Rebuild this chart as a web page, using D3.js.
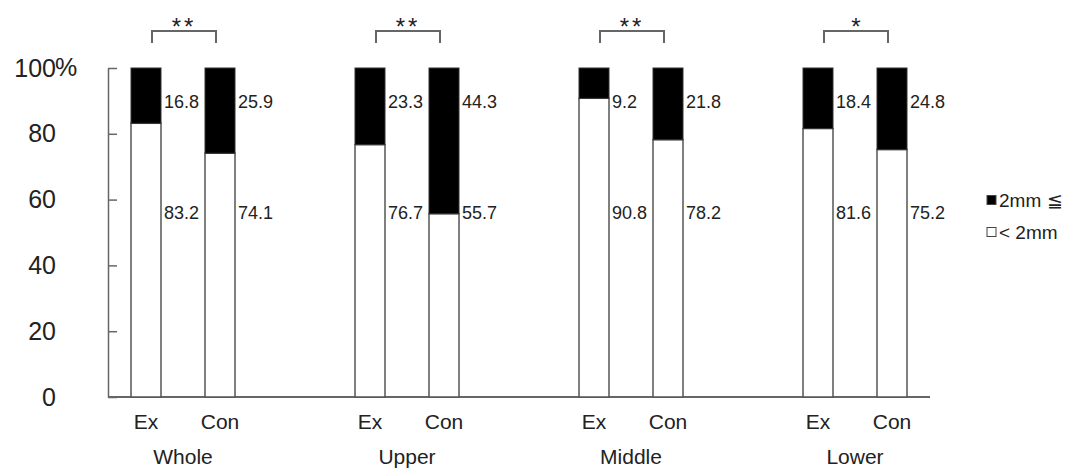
<!DOCTYPE html>
<html>
<head>
<meta charset="utf-8">
<script src="https://cdn.jsdelivr.net/npm/d3@7"></script>
<style>
  body { margin: 0; background: #fff; }
  svg text { font-family: "Liberation Sans", Arial, sans-serif; fill: #222; }
</style>
</head>
<body>
<svg id="chart"></svg>
<script>
// Groups and arms
const groups = ['Whole', 'Upper', 'Middle', 'Lower'];
const arms = ['Ex', 'Con'];

// Percent values, per group: [Ex, Con]
const below2mm = [[83.2, 74.1], [76.7, 55.7], [90.8, 78.2], [81.6, 75.2]];
const over2mm = [[16.8, 25.9], [23.3, 44.3], [9.2, 21.8], [18.4, 24.8]];

// Significance marks per group
const signif = ['**', '**', '**', '*'];

const yTicks = [0, 20, 40, 60, 80, 100];
const legendLabels = ['2mm \u2266', '< 2mm'];

const width = 1084, height = 470;
const axisColor = '#666';

const svg = d3.select('#chart')
  .attr('width', width)
  .attr('height', height);

// Scales
const yScale = d3.scaleLinear().domain([0, 100]).range([397, 68]);
const groupScale = d3.scalePoint().domain(groups).range([183, 855]);
const armScale = d3.scaleBand().domain(arms).range([-52, 52])
  .paddingInner(0.5946).paddingOuter(0);

// Flatten data for bars
const bars = [];
groups.forEach((g, i) => {
  arms.forEach((a, j) => {
    bars.push({ group: g, arm: a, low: below2mm[i][j], high: over2mm[i][j] });
  });
});
const barX = d => groupScale(d.group) + armScale(d.arm);

// Y axis (ticks point inward)
const yAxis = d3.axisLeft(yScale)
  .tickValues(yTicks)
  .tickSizeInner(-9)
  .tickSizeOuter(0)
  .tickPadding(52);

const yAxisG = svg.append('g')
  .attr('transform', 'translate(108,0)')
  .call(yAxis);
yAxisG.select('.domain').attr('stroke', axisColor).attr('stroke-width', 1.5);
yAxisG.selectAll('.tick line').attr('stroke', axisColor).attr('stroke-width', 1.5);
yAxisG.selectAll('.tick text')
  .attr('font-size', 25)
  .attr('font-family', '"Liberation Sans", Arial, sans-serif')
  .attr('fill', '#222');
// percent sign after the top tick
yAxisG.append('text')
  .attr('x', -53)
  .attr('y', yScale(100))
  .attr('dy', '0.32em')
  .attr('text-anchor', 'start')
  .attr('font-size', 25)
  .text('%');

// Baseline
svg.append('line')
  .attr('x1', 108).attr('x2', 930)
  .attr('y1', yScale(0)).attr('y2', yScale(0))
  .attr('stroke', axisColor)
  .attr('stroke-width', 2);

// Bars: white (< 2mm) lower part, black (2mm <=) upper part
const barG = svg.append('g');
barG.selectAll('.bar-low')
  .data(bars)
  .join('rect')
  .attr('class', 'bar-low')
  .attr('x', barX)
  .attr('width', armScale.bandwidth())
  .attr('y', d => yScale(d.low))
  .attr('height', d => yScale(0) - yScale(d.low))
  .attr('fill', '#fff')
  .attr('stroke', '#555')
  .attr('stroke-width', 1.5);

barG.selectAll('.bar-high')
  .data(bars)
  .join('rect')
  .attr('class', 'bar-high')
  .attr('x', barX)
  .attr('width', armScale.bandwidth())
  .attr('y', d => yScale(d.low + d.high))
  .attr('height', d => yScale(d.low) - yScale(d.low + d.high))
  .attr('fill', '#000')
  .attr('stroke', '#333')
  .attr('stroke-width', 1);

// Value labels
svg.selectAll('.lbl-high')
  .data(bars)
  .join('text')
  .attr('class', 'lbl-high')
  .attr('x', d => barX(d) + armScale.bandwidth() + 3)
  .attr('y', 102)
  .attr('dy', '0.35em')
  .attr('font-size', 18)
  .text(d => d.high.toFixed(1));

svg.selectAll('.lbl-low')
  .data(bars)
  .join('text')
  .attr('class', 'lbl-low')
  .attr('x', d => barX(d) + armScale.bandwidth() + 3)
  .attr('y', 213)
  .attr('dy', '0.35em')
  .attr('font-size', 18)
  .text(d => d.low.toFixed(1));

// Arm labels
svg.selectAll('.arm-label')
  .data(bars)
  .join('text')
  .attr('class', 'arm-label')
  .attr('x', d => barX(d) + armScale.bandwidth() / 2)
  .attr('y', 422)
  .attr('dy', '0.35em')
  .attr('text-anchor', 'middle')
  .attr('font-size', 21)
  .text(d => d.arm);

// Group labels
svg.selectAll('.group-label')
  .data(groups)
  .join('text')
  .attr('class', 'group-label')
  .attr('x', d => groupScale(d))
  .attr('y', 457)
  .attr('dy', '0.35em')
  .attr('text-anchor', 'middle')
  .attr('font-size', 21)
  .text(d => d);

// Significance brackets
const bracketG = svg.append('g');
groups.forEach((g, i) => {
  const x1 = groupScale(g) + armScale('Ex') + armScale.bandwidth() / 2 + 6;
  const x2 = groupScale(g) + armScale('Con') + armScale.bandwidth() / 2 - 4;
  bracketG.append('path')
    .attr('d', `M${x1},43 V31 H${x2} V43`)
    .attr('fill', 'none')
    .attr('stroke', axisColor)
    .attr('stroke-width', 2);
  bracketG.append('text')
    .attr('x', (x1 + x2) / 2)
    .attr('y', 35)
    .attr('text-anchor', 'middle')
    .attr('font-size', 24)
    .attr('letter-spacing', signif[i].length > 1 ? 3 : 0)
    .text(signif[i]);
});

// Legend
const legend = svg.append('g');
const legendFill = ['#000', '#fff'];
legendLabels.forEach((t, i) => {
  const y = 200 + i * 32;
  legend.append('rect')
    .attr('x', 987).attr('y', y - 4.5)
    .attr('width', 9).attr('height', 9)
    .attr('fill', legendFill[i])
    .attr('stroke', '#444')
    .attr('stroke-width', 1);
  legend.append('text')
    .attr('x', 999)
    .attr('y', y)
    .attr('dy', '0.35em')
    .attr('font-size', 19)
    .text(t);
});
</script>
</body>
</html>
